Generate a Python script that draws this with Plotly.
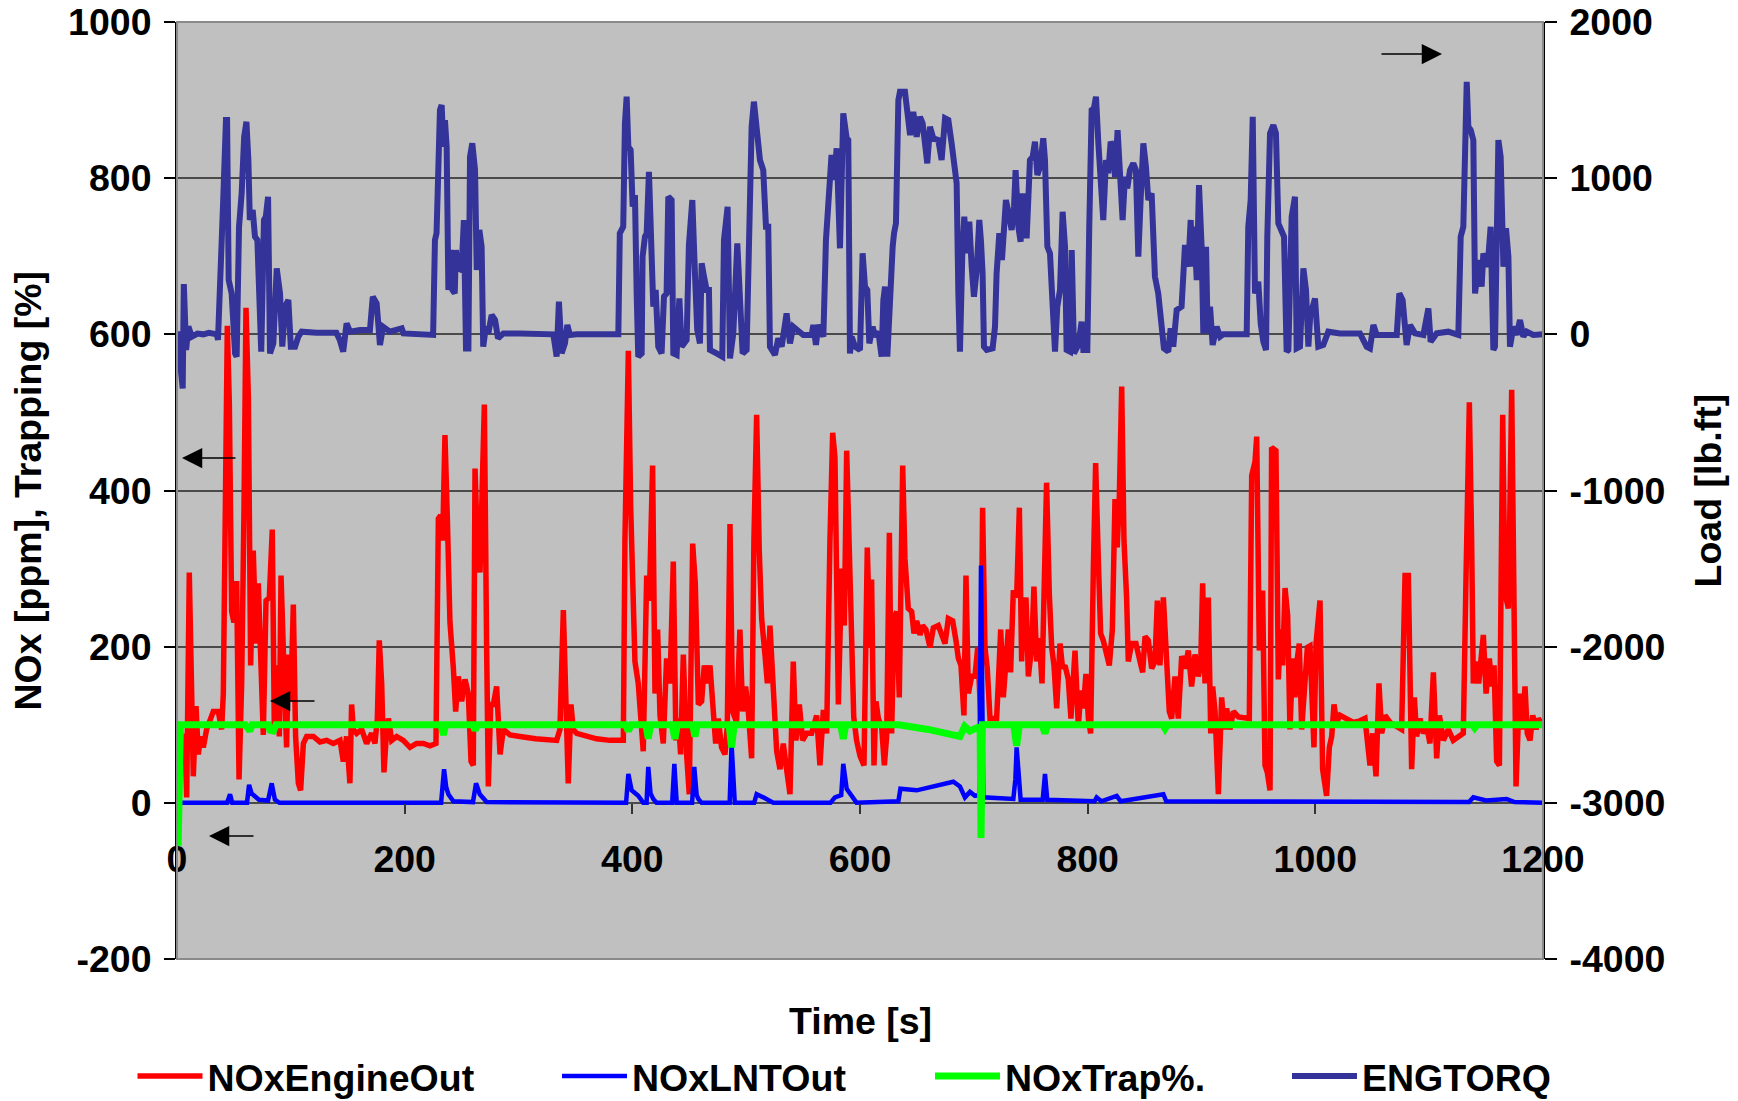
import plotly.graph_objects as go

# ---------------- data ----------------
# NOxEngineOut [ppm]
eng_t = [7, 8.5, 10.8, 12.9, 14.3, 16.7, 18.7, 20.8, 23.1, 26, 29, 31.9, 36.3, 39.2, 40.7, 42.2, 44.2, 46, 48, 50,
         52.4, 54.5, 56.8, 58.9, 60.6, 62.7, 64.7, 67, 69.4, 71.4, 73.5, 75.8, 78.2, 81.1, 83.7, 85.5, 87.6, 89.9, 91.4, 93.4,
         94.9, 96.3, 97.8, 99.9, 102.2, 104.2, 106.6, 108.6, 111, 113.9, 119.8, 125.6, 131.5, 137.3, 143.2, 146.1, 149, 151.9, 153.4, 154.9,
         157.8, 162.2, 166.6, 171, 173.9, 176, 177.7, 179.8, 181.8, 183.6, 185.7, 188.6, 193, 198.8, 204.7, 210.5, 216.4, 222.3, 227.5, 229.6,
         231.6, 233.4, 235.4, 237.5, 239.8, 242.8, 244.8, 247.1, 250.1, 253, 255.9, 258.3, 260.3, 261.8, 263.8, 266.2, 268.2, 270, 272, 273.5,
         275.6, 277.9, 280.8, 283.8, 286.7, 292.5, 301.3, 315, 333.5, 336.4, 339.4, 341.7, 343.7, 346.1, 348.1, 351.1, 359.8, 368.6, 380.3, 392.1,
         393.5, 396.5, 398.5, 400.3, 402.3, 405.2, 408.2, 409.6, 412.6, 414.9, 417.8, 419.9, 422.2, 424.3, 427.2, 430.1, 433.1, 436, 438.3, 440.4,
         442.4, 444.8, 447.7, 450, 453, 455.3, 458, 460.9, 463.2, 465.9, 468.2, 470.5, 473.2, 475.5, 478.4, 481.4, 483.4, 485.8, 488.1, 491.6,
         494.5, 496.9, 499.5, 501.9, 504.8, 506.8, 509.2, 511.5, 513.6, 516.5, 518.6, 520.9, 523.8, 526.8, 529.7, 532.6, 535.5, 538.5, 541.4, 543.7,
         546.7, 549.6, 553.1, 557.5, 561.9, 564.8, 567.8, 570.7, 573.6, 576, 578, 581, 583.9, 586.2, 588.3, 591.2, 592.7, 594.5, 597, 600,
         603.5, 606.4, 608.8, 610.2, 612.3, 614, 616.1, 619, 621.4, 623.4, 625.8, 627.8, 629.9, 632.2, 634.5, 636.6, 637.5, 639.5, 642.4, 645.4,
         647.4, 649.8, 652.7, 655, 657.9, 661.5, 664.4, 668.8, 671.7, 674.7, 677.6, 681.4, 684.3, 686.4, 688.7, 691.3, 693.1, 695.2, 698.1, 701,
         703.4, 706, 707.7, 709.8, 711.8, 714.2, 717.1, 720, 721.5, 723.6, 725.9, 728.2, 730.3, 732.3, 734.7, 737.6, 740, 742, 743.5, 745.8,
         747.9, 750.8, 752.8, 755.2, 757.5, 759.9, 761.6, 763.9, 766.3, 768.4, 770.4, 772.8, 775.7, 778, 780.1, 783, 785.3, 788.9, 791.8, 794.1,
         796.2, 798.5, 800.6, 802.6, 805, 807, 809.4, 811.4, 813.7, 816.1, 819, 821.7, 824, 826, 827.8, 829.9, 831.9, 834.2, 835.7, 838.6,
         842.4, 846, 848.3, 850.4, 853.3, 856.2, 859.1, 861.2, 863.5, 866.5, 869.4, 871.7, 873.8, 876.7, 879.6, 882.6, 885.5, 888.4, 891.3, 894.3,
         897.2, 899.3, 901, 903.1, 906, 908.1, 909.8, 911.9, 914.8, 917.7, 920.1, 922.1, 925, 928, 932.4, 938.2, 942, 944.1, 947, 948.5,
         950.8, 953.7, 955.8, 957.8, 960.2, 961.6, 965.4, 967.5, 969.5, 971.3, 973.4, 975.7, 977.7, 980.1, 982.1, 984.2, 985.9, 988, 990.9, 993,
         995.3, 996.8, 998.8, 1000.6, 1004.1, 1006.4, 1009.9, 1012.3, 1014.4, 1016.4, 1018.7, 1021.7, 1027.5, 1033.4, 1039.2, 1043.6, 1048, 1050.4, 1053.3, 1055.9,
         1058.3, 1061.2, 1065.6, 1071.5, 1075.8, 1078.8, 1081.7, 1084.6, 1087, 1089, 1091.9, 1094.9, 1097.8, 1100.7, 1103.7, 1106.6, 1109, 1112.5, 1116.8, 1121.2,
         1125.6, 1130, 1132.4, 1135.3, 1137.3, 1138.8, 1141.2, 1143.5, 1147.6, 1150, 1152.9, 1155, 1157, 1159.3, 1161.7, 1164.6, 1166.6, 1169.6, 1172.5, 1174.6,
         1176.3, 1179.2, 1181.8, 1184.2, 1186.2, 1188.6, 1191, 1193.9, 1195.9, 1199]
eng_out = [89, 7, 295, 108, 34, 124, 62, 85, 71, 94, 108, 117, 117, 94, 140, 291, 611, 510, 245, 231,
           284, 30, 153, 382, 634, 519, 176, 323, 204, 281, 199, 87, 259, 263, 350, 94, 176, 85, 291, 153,
           126, 71, 190, 130, 254, 85, 25, 16, 76, 85, 85, 78, 80, 76, 80, 53, 85, 25, 126, 94,
           89, 94, 76, 89, 76, 108, 208, 153, 39, 80, 108, 80, 85, 80, 71, 76, 76, 73, 76, 364,
           368, 336, 471, 364, 231, 172, 117, 162, 130, 158, 140, 53, 48, 428, 336, 295, 437, 510, 199, 21,
           126, 126, 149, 62, 94, 87, 85, 82, 80, 94, 247, 117, 25, 126, 94, 89, 85, 82, 80, 80,
           336, 579, 382, 254, 181, 153, 89, 66, 291, 259, 432, 140, 222, 112, 76, 185, 153, 309, 80, 108,
           62, 190, 62, 11, 332, 281, 126, 130, 176, 153, 176, 135, 76, 108, 71, 62, 98, 357, 117, 103,
           222, 117, 149, 117, 57, 336, 497, 323, 236, 190, 153, 227, 130, 66, 43, 76, 43, 11, 181, 80,
           126, 80, 89, 89, 112, 48, 119, 89, 336, 474, 442, 126, 300, 227, 451, 259, 199, 110, 80, 60,
           48, 327, 199, 286, 48, 130, 108, 98, 48, 85, 346, 89, 236, 245, 135, 327, 432, 313, 249, 245,
           217, 233, 215, 227, 222, 199, 224, 227, 217, 204, 236, 233, 208, 185, 176, 112, 291, 140, 162, 162,
           199, 112, 378, 199, 172, 108, 108, 108, 153, 222, 135, 176, 222, 167, 272, 263, 378, 181, 245, 263,
           162, 199, 277, 181, 211, 153, 300, 410, 268, 199, 176, 121, 204, 172, 176, 158, 108, 195, 98, 144,
           121, 165, 108, 89, 300, 435, 309, 217, 208, 190, 176, 222, 389, 327, 391, 533, 336, 263, 181, 204,
           204, 181, 167, 213, 208, 172, 181, 259, 176, 263, 162, 117, 108, 162, 108, 188, 172, 195, 149, 190,
           162, 176, 281, 153, 263, 89, 149, 117, 11, 135, 94, 121, 94, 117, 110, 108, 108, 419, 437, 469,
           195, 272, 48, 39, 16, 455, 451, 158, 222, 176, 275, 240, 94, 185, 135, 185, 204, 94, 153, 199,
           201, 144, 71, 204, 259, 43, 9, 71, 85, 126, 103, 112, 108, 103, 105, 108, 48, 89, 34, 153,
           89, 112, 103, 98, 94, 291, 291, 43, 135, 85, 108, 89, 98, 76, 167, 57, 112, 80, 94, 80,
           85, 89, 291, 513, 336, 153, 181, 153, 215, 140, 185, 149, 176, 53, 48, 497, 268, 249, 529, 199,
           21, 140, 94, 149, 89, 80, 112, 94, 108, 101]

# NOxLNTOut [ppm]
lnt_t = [2, 44, 46.6, 48.5, 61.5, 63.3, 65.5, 68.5, 72, 80, 83.2, 86, 90, 232, 234.6, 236.5, 238.4, 242.8, 260, 262.7,
         266, 272, 394.5, 396.5, 399.4, 405.2, 409.6, 412.5, 414, 416, 418.4, 421.3, 435, 436.9, 439, 452.5, 454.4, 456.5, 458, 460.9,
         485.5, 487.2, 490, 507, 509.2, 515, 523.8, 574, 578, 583.5, 585.3, 588.3, 592, 594, 597, 633.7, 635.5, 649.8, 664.4, 676,
         682, 687.8, 692.2, 696.6, 701, 704.8, 706.3, 708.3, 734.7, 736.5, 737.6, 739.5, 741.1, 760.5, 762.5, 764.5, 806, 807.9, 812, 825.5,
         829, 866.5, 869, 1135, 1138.8, 1150, 1168, 1175, 1200]
lnt_out = [0, 0, 11, 0, 0, 23, 12, 9, 4, 3, 25, 4, 0, 0, 43, 20, 11, 2, 1, 25,
           11, 1, 0, 37, 16, 9, 0, 0, 46, 12, 5, 0, 0, 50, 0, 0, 46, 10, 5, 0,
           0, 75, 0, 0, 11, 7, 0, 0, 7, 10, 50, 18, 11, 7, 0, 2, 18, 16, 21, 25,
           27, 21, 7, 14, 9, 10, 304, 7, 5, 30, 71, 35, 4, 4, 37, 4, 2, 7, 2, 9,
           2, 11, 2, 1, 7, 3, 5, 1, 0]

# NOxTrap% [%]
trap_t = [1, 3, 60, 64, 66, 80, 81.7, 84.6, 87, 232, 234, 236, 260, 261.8, 264, 394, 396.5, 399, 412, 414,
          416, 435, 437.4, 439.5, 453, 455, 457, 485, 487.2, 489.5, 583, 585.3, 587.5, 634, 660, 687.8, 692, 696.6, 702.5, 705.5,
          706.3, 707.5, 735, 737.6, 740, 760, 762.5, 765, 866, 868, 870, 1138, 1140, 1142, 1200]
trap_pct = [-55, 100, 100, 92, 100, 100, 93, 92, 100, 100, 87, 100, 100, 93, 100, 100, 92, 100, 100, 82,
            100, 100, 82, 100, 100, 85, 100, 100, 71, 100, 100, 82, 100, 100, 94, 85, 98, 92, 96, 98,
            -45, 100, 100, 73, 100, 100, 89, 100, 100, 95, 100, 100, 96, 100, 100]

# ENGTORQ [lb.ft]
torq_t = [0, 1, 3, 5, 6, 8, 10, 13, 18, 23, 28, 35, 36, 38, 40.5, 43, 44, 45.4, 48, 51,
          52.4, 54.5, 56.8, 59, 61, 62.7, 64, 66.5, 68.5, 70.6, 73, 74, 76.4, 78, 80, 81.7, 84.6, 87.6, 90.5, 92.5,
          94.9, 97.8, 100, 103.7, 106.6, 109.5, 122.7, 140, 143, 146, 149, 152, 160.8, 169.5, 172, 175.4, 178.3, 181, 187, 197.4,
          199, 225, 226.6, 228, 231, 232.5, 234, 235.4, 236.9, 238.4, 240.4, 242, 244, 245, 247, 250, 252, 253.9, 256, 257.4,
          259.4, 261.8, 263.3, 265.6, 267.6, 269, 271.4, 273.5, 276.4, 279.4, 282, 286.7, 301, 330.6, 333.5, 335.5, 337.9, 340.8, 342.9, 345.2,
          351, 387.7, 389, 392, 393.5, 395, 396.5, 398.5, 400.3, 402.3, 403.8, 405.2, 408.2, 409, 411.1, 412.6, 414.6, 417, 418.4, 420.5,
          422.8, 425.7, 427.8, 430.1, 431.6, 434.5, 436, 438.9, 441.3, 443.3, 447.7, 449.7, 452.7, 455, 457, 459.4, 460.9, 463, 465.3, 467.3,
          468.2, 474, 479, 480.5, 483.7, 485.8, 488.7, 492.2, 494.5, 496.9, 500.4, 502.7, 504.8, 506.8, 509.2, 512.1, 515, 517.4, 519.4, 520.9,
          525.3, 528.2, 531.2, 535.5, 538.5, 541.4, 550.2, 557.5, 559, 561.3, 563.4, 567.8, 570.1, 573, 575, 577.1, 579.5, 582.4, 585.3, 588.3,
          589.7, 591.2, 592.7, 595.6, 600, 602.3, 604.4, 606.4, 608.2, 611.1, 613.2, 616.1, 619, 620.5, 622, 624, 626.3, 628.7, 629.9, 631.6,
          633.7, 635.1, 639.5, 641.6, 644, 646.8, 649.8, 652.7, 655, 657.1, 659.1, 661.5, 664.4, 668.8, 671.7, 674.7, 677.6, 680.5, 683.4, 684.9,
          686.4, 687.8, 689.9, 691.6, 693.7, 696, 698.1, 700.1, 702.5, 704.8, 706.3, 707.7, 708.9, 711.3, 716.5, 718.6, 720, 722.4, 724.7, 726.5,
          728.2, 731.2, 733.2, 735.3, 736.7, 739.1, 741.1, 742.9, 744.3, 746.4, 749.3, 751.7, 753.7, 755.8, 758.1, 761, 762.5, 764.6, 766.9, 769.2,
          771.3, 773.3, 775.7, 778, 780.1, 781.5, 784.5, 786, 788, 791.8, 794.7, 796.2, 799.7, 801.4, 803.5, 805.5, 807.3, 809.4, 811.4, 813.7,
          816.1, 818.1, 820.2, 822.5, 824, 826.3, 828.4, 830.7, 832.8, 834.8, 837.2, 840.1, 842.4, 844.5, 846.5, 848.9, 851.2, 853.3, 856.2, 859.1,
          862, 865, 867, 870.8, 872.9, 875.2, 878.2, 882.5, 885.5, 888.4, 890.5, 892, 893.6, 895.8, 897.8, 900.1, 901.6, 904, 905.4, 907.5,
          909.8, 913.3, 916.3, 919, 939.7, 941.1, 943.2, 945, 947, 949.9, 952, 954.3, 956.7, 957.8, 960.2, 963.1, 965.4, 967.5, 970.4, 972.5,
          974.8, 976.3, 979.2, 982.1, 983.6, 986.5, 989.5, 991.8, 993.9, 995.9, 997.7, 999.7, 1002.6, 1007, 1011.4, 1021.7, 1039.2, 1042.2, 1045.1, 1048,
          1051, 1053.9, 1071.5, 1073.8, 1076.7, 1080.2, 1083.2, 1087.6, 1094.9, 1099.3, 1101.3, 1106.6, 1116.8, 1125.6, 1127.7, 1130, 1131.5, 1133, 1134.4, 1136.5,
          1138.8, 1140.3, 1141.7, 1144.1, 1146.1, 1147.6, 1150.5, 1152, 1154, 1154.9, 1156.4, 1157.8, 1159.3, 1160.8, 1162.8, 1165.2, 1167.5, 1169.6, 1171, 1174,
          1176.9, 1179.8, 1182.7, 1185.7, 1191.5, 1197.4, 1200]
torq = [0, 0, -200, -346, 322, -100, 50, -15, 5, 0, 10, 0, -36, 476, 839, 1372, 1372, 348, 262, -122,
        -143, 689, 903, 1265, 1361, 1116, 732, 796, 625, 604, -100, -111, 732, 753, 881, -122, -58, 423, 262, -79,
        177, 220, -79, -79, -15, 17, 10, 10, -36, -111, 70, 17, 28, 28, 241, 198, -68, 49, 17, 38,
        6, -4, 604, 647, 1436, 1468, 1201, 1372, 1201, 284, 540, 284, 262, 540, 423, 412, 732, -90, -90, 1137,
        1223, 1052, 412, 668, 561, -79, 49, 6, 124, 92, -26, 6, 6, 0, -143, 209, -122, -58, 60, -4,
        0, 0, 647, 689, 1351, 1522, 1201, 1180, 817, 892, 262, -143, -122, 497, 625, 647, 1041, 305, 177, 284,
        -79, -122, 241, 262, 881, 860, -122, -132, 230, -79, -36, 572, 860, 390, 28, -58, 455, 369, 284, 284,
        -100, -122, -143, 604, 817, -154, 6, 583, 305, -122, -100, 689, 1330, 1490, 1351, 1116, 1052, 689, 689, -79,
        -132, -26, -79, 134, -58, 49, -4, -4, 60, -68, 60, -15, 604, 860, 1148, 988, 1191, 551, 1415, 1255,
        1244, -122, -15, -79, -100, 519, 305, 284, -58, 49, -15, 17, -143, 220, 305, -143, 262, 561, 647, 711,
        1500, 1554, 1554, 1436, 1276, 1425, 1265, 1393, 1351, 1223, 1095, 1329, 1255, 1244, 1116, 1383, 1372, 1223, 1073, 967,
        262, -111, 519, 753, 519, 721, 433, 241, 412, 732, 593, 390, -79, -100, -90, 49, 390, 647, 476, 625,
        860, 753, 668, 817, 1052, 689, 593, 903, 775, 615, 1116, 1137, 1233, 1020, 1073, 1255, 1116, 561, 519, 134,
        -111, 177, 284, 785, 561, -100, -111, 540, -122, -68, 81, -100, -100, 689, 1436, 1447, 1522, 1223, 988, 732,
        1116, 1031, 1233, 1201, 1009, 1308, 1031, 732, 1009, 935, 1052, 1095, 1052, 497, 860, 1223, 1073, 860, 903, 369,
        262, 92, -90, -111, 38, -79, 156, 177, 572, 433, 732, 433, 689, 348, 956, 561, 6, 561, 6, 177,
        -68, 49, -15, 0, 0, 689, 860, 1393, 262, 337, 70, -47, -100, 625, 1287, 1340, 1287, 711, 647, 625,
        -111, -100, 753, 881, -90, -79, 423, 284, -79, 166, 177, 230, -79, -68, 17, 6, 6, -47, -79, -90,
        60, -4, -4, 262, 220, -68, 60, 6, -4, 166, -47, 6, 17, -4, 625, 689, 1223, 1617, 1330, 1308,
        1244, 262, 348, 476, 305, 519, 433, 497, 689, 476, -100, -79, 796, 1244, 1137, 433, 679, 497, -79, 49,
        -4, 92, -15, 17, -4, -4, 0]

x_ticks = [0, 200, 400, 600, 800, 1000, 1200]
y_left_ticks = [-200, 0, 200, 400, 600, 800, 1000]
y_right_ticks = [-4000, -3000, -2000, -1000, 0, 1000, 2000]

# ---------------- layout geometry (pixels of the 1738x1101 page) ----------------
W, H = 1738, 1101
PL, PR, PT, PB = 177, 1543, 22, 959       # plot area edges on the page
PW, PH = PR - PL, PB - PT

def px(x):
    return (x - PL) / PW

def py(y):
    return (PB - y) / PH

FONT = "Liberation Sans, Arial, sans-serif"
FS = 37.5
bold = dict(family=FONT, size=FS, color="black", weight="bold")

fig = go.Figure()
fig.add_trace(go.Scatter(x=eng_t, y=eng_out, name="NOxEngineOut", mode="lines",
                         line=dict(color="#FF0000", width=5.5), legend="legend"))
fig.add_trace(go.Scatter(x=lnt_t, y=lnt_out, name="NOxLNTOut", mode="lines",
                         line=dict(color="#0000FF", width=4.5), legend="legend2"))
fig.add_trace(go.Scatter(x=trap_t, y=trap_pct, name="NOxTrap%.", mode="lines",
                         line=dict(color="#00FF00", width=7), legend="legend3"))
fig.add_trace(go.Scatter(x=torq_t, y=torq, name="ENGTORQ", mode="lines", yaxis="y2",
                         line=dict(color="#333399", width=6), legend="legend4"))

leg_common = dict(orientation="h", yanchor="middle", xanchor="left", y=py(1076),
                  font=bold, bgcolor="rgba(0,0,0,0)", itemwidth=65, borderwidth=0)
fig.update_layout(
    width=W, height=H, autosize=False,
    margin=dict(l=PL, r=W - PR, t=PT, b=H - PB, pad=0, autoexpand=False),
    paper_bgcolor="white", plot_bgcolor="#C0C0C0",
    font=bold,
    xaxis=dict(range=[0, 1200], tickvals=x_ticks, ticktext=[str(v) for v in x_ticks],
               anchor="free", position=1 / 6, showgrid=False, zeroline=False,
               showline=False, ticks="outside", ticklen=10, tickwidth=1.5, tickcolor="#333333",
               tickfont=bold, ticklabelstandoff=13, ticklabeloverflow="allow"),
    yaxis=dict(range=[-200, 1000], tickvals=y_left_ticks, ticktext=[str(v) for v in y_left_ticks],
               showgrid=True, gridcolor="#4a4a4a", gridwidth=1.5, zeroline=False,
               showline=True, linecolor="black", linewidth=2, ticks="outside", ticklen=11,
               tickwidth=1.5, tickcolor="black", tickfont=bold, ticklabelstandoff=5,
               ticklabeloverflow="allow"),
    yaxis2=dict(range=[-4000, 2000], tickvals=y_right_ticks, ticktext=[str(v) for v in y_right_ticks],
                overlaying="y", side="right", showgrid=False, zeroline=False,
                showline=True, linecolor="black", linewidth=2, ticks="outside", ticklen=12,
                tickwidth=1.5, tickcolor="black", tickfont=bold, ticklabelstandoff=5,
                ticklabeloverflow="allow"),
    legend=dict(leg_common, x=px(132.5)),
    legend2=dict(leg_common, x=px(557)),
    legend3=dict(leg_common, x=px(930)),
    legend4=dict(leg_common, x=px(1287)),
    showlegend=True,
)

# plot area border
fig.add_shape(type="rect", xref="paper", yref="paper", x0=0, x1=1, y0=0, y1=1,
              line=dict(color="#8a8a8a", width=2), fillcolor="rgba(0,0,0,0)", layer="above")

# axis titles
fig.add_annotation(text="NOx [ppm], Trapping [%]", xref="paper", yref="paper", x=px(27), y=0.5,
                   textangle=-90, showarrow=False, font=bold, xanchor="center", yanchor="middle")
fig.add_annotation(text="Load [lb.ft]", xref="paper", yref="paper", x=px(1707), y=0.5,
                   textangle=-90, showarrow=False, font=bold, xanchor="center", yanchor="middle")
fig.add_annotation(text="Time [s]", xref="paper", yref="paper", x=0.5, y=py(1021),
                   showarrow=False, font=bold, xanchor="center", yanchor="middle")

# direction arrows (which axis each curve belongs to)
arrows = [((1442, 54), -62), ((182, 458), 55), ((270, 701), 46), ((209, 836), 46)]
for (tx, ty), dx in arrows:
    fig.add_annotation(x=px(tx), y=py(ty), xref="paper", yref="paper", text="",
                       showarrow=True, ax=dx, ay=0, arrowhead=2, arrowsize=2.7, arrowwidth=1.5,
                       arrowcolor="black")

# the page's default 8px body margin would shift the 1738x1101 figure; remove it
fig.write_html("out.html", config={"displayModeBar": False},
               post_script="document.body.style.margin='0';document.body.style.overflow='hidden';")
